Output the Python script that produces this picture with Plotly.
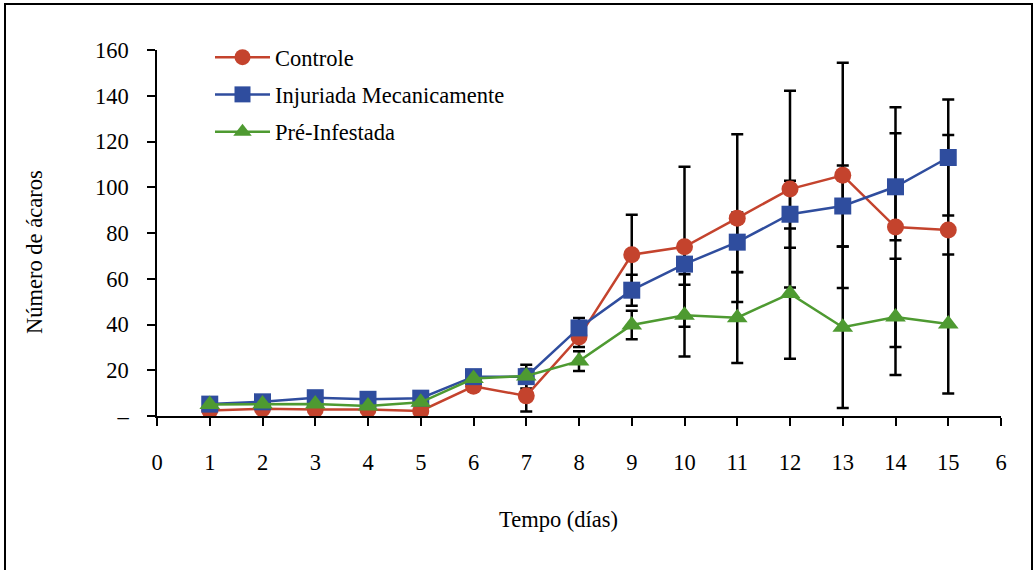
import plotly.graph_objects as go

# ---- data ----
dias = list(range(1, 16))
controle = [2.4, 3.2, 2.8, 2.8, 2.2, 13.0, 8.8, 34.5, 70.5, 74.0, 86.5, 99.2, 105.2, 82.6, 81.3]
controle_err = [1.0, 1.0, 1.0, 1.0, 1.0, 1.5, 6.8, 4.3, 17.5, 35.0, 36.7, 43.0, 49.2, 52.4, 41.5]
injuriada = [5.2, 6.2, 8.0, 7.3, 7.8, 17.2, 17.2, 38.5, 55.0, 66.4, 76.0, 88.2, 91.8, 100.2, 113.0]
injuriada_err = [1.0, 1.0, 1.5, 1.0, 1.5, 2.0, 5.2, 4.3, 6.8, 9.0, 13.0, 14.6, 17.7, 23.4, 25.4]
pre_infestada = [5.0, 5.2, 5.2, 4.4, 6.0, 16.4, 17.5, 24.0, 39.8, 44.0, 43.0, 53.5, 38.8, 43.3, 40.2]
pre_infestada_err = [1.0, 1.0, 1.0, 1.0, 1.0, 1.5, 3.0, 4.3, 6.2, 18.0, 19.8, 28.5, 35.3, 25.4, 30.4]

series_names = ["Controle", "Injuriada Mecanicamente", "Pré-Infestada"]
x_tickvals = list(range(0, 17))
x_ticktext = [str(v) for v in range(0, 16)] + ["6"]
y_tickvals = [0, 20, 40, 60, 80, 100, 120, 140, 160]
y_ticktext = ["–", "20", "40", "60", "80", "100", "120", "140", "160"]

colors = ["#C4432D", "#2F4D9E", "#4E9A31"]
symbols = ["circle", "square", "triangle-up"]
values = [controle, injuriada, pre_infestada]
errors = [controle_err, injuriada_err, pre_infestada_err]

FONT = "Liberation Serif"
FS = 22.5

fig = go.Figure()

# error bars first (under all markers)
for v, e in zip(values, errors):
    fig.add_trace(go.Scatter(
        x=dias, y=v, mode="markers",
        marker=dict(size=1, color="rgba(0,0,0,0)"),
        error_y=dict(type="data", array=e, visible=True, color="black",
                     thickness=2.5, width=6),
        showlegend=False, hoverinfo="skip"))

for i, (name, v) in enumerate(zip(series_names, values)):
    fig.add_trace(go.Scatter(
        x=dias, y=v, mode="lines+markers", name=name,
        line=dict(color=colors[i], width=2.5),
        marker=dict(symbol=symbols[i], size=17 if i != 2 else 18, color=colors[i]),
        legendgroup=f"g{i}"))

L, R, T, B = 157, 32, 50, 154
W, H = 1033, 570
pw, ph = W - L - R, H - T - B

def px(x):
    return (x - L) / pw

def py(y):
    return (H - B - y) / ph

fig.update_layout(
    width=W, height=H,
    margin=dict(l=L, r=R, t=T, b=B),
    paper_bgcolor="white", plot_bgcolor="white",
    font=dict(family=FONT, size=FS, color="black"),
    showlegend=True,
    legend=dict(x=px(210), y=py(36), xanchor="left", yanchor="top",
                bgcolor="rgba(0,0,0,0)", font=dict(family=FONT, size=FS, color="black"),
                tracegroupgap=5, itemwidth=55),
    xaxis=dict(range=[0, 16], tickmode="array", tickvals=x_tickvals, ticktext=x_ticktext,
               showgrid=False, zeroline=False, showline=True, linecolor="black", linewidth=1.5,
               ticks="outside", ticklen=8, tickwidth=1.5, tickcolor="black",
               ticklabelstandoff=17, tickfont=dict(family=FONT, size=FS, color="black")),
    yaxis=dict(range=[0, 160], tickmode="array", tickvals=y_tickvals, ticktext=y_ticktext,
               showgrid=False, zeroline=False, showline=True, linecolor="black", linewidth=1.5,
               ticks="outside", ticklen=8, tickwidth=1.5, tickcolor="black",
               ticklabelstandoff=14, tickfont=dict(family=FONT, size=FS, color="black")),
    annotations=[
        dict(text="Tempo (días)", xref="paper", yref="paper", x=px(558), y=py(519),
             xanchor="center", yanchor="middle", showarrow=False,
             font=dict(family=FONT, size=FS, color="black")),
        dict(text="Número de ácaros", xref="paper", yref="paper", x=px(35), y=py(252),
             xanchor="center", yanchor="middle", showarrow=False, textangle=-90,
             font=dict(family=FONT, size=FS, color="black")),
    ],
    shapes=[dict(type="rect", xref="paper", yref="paper",
                 x0=px(5), x1=px(1032), y0=py(575), y1=py(4),
                 line=dict(color="black", width=2), fillcolor="rgba(0,0,0,0)", layer="below")],
)

fig.write_html("out.html", config={"displayModeBar": False},
               post_script="document.body.style.margin='0';")
